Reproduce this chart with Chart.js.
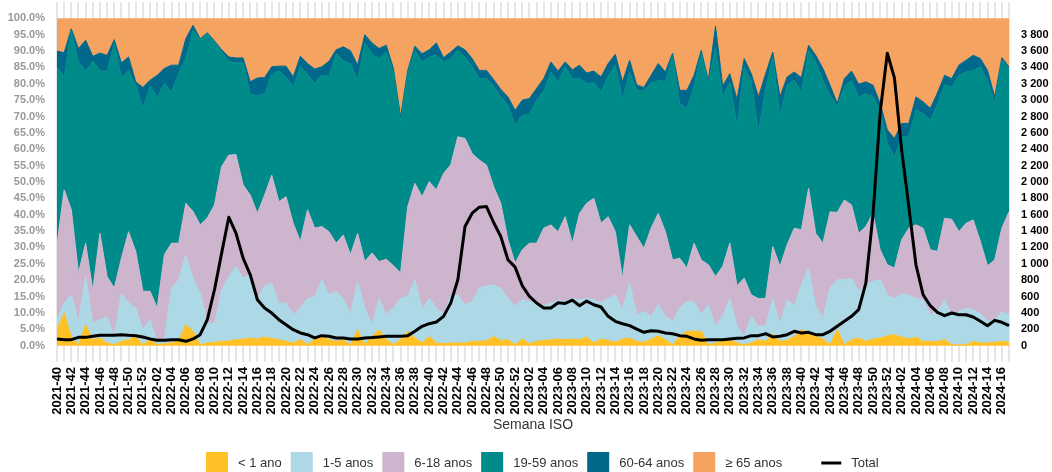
<!DOCTYPE html>
<html>
<head>
<meta charset="utf-8">
<script src="https://cdn.jsdelivr.net/npm/chart.js@4.4.0/dist/chart.umd.min.js"></script>
<style>
  html, body { margin: 0; padding: 0; background: #fff; }
  #wrap { width: 1052px; height: 472px; }
</style>
</head>
<body>
<div id="wrap"><canvas id="myChart" width="1052" height="472"></canvas></div>
<script>
// ISO weeks 2021-40 .. 2024-17
const weekRanges = [[2021, 40, 52], [2022, 1, 52], [2023, 1, 52], [2024, 1, 17]];
const weeks = [];
weekRanges.forEach(([yr, a, b]) => {
  for (let w = a; w <= b; w++) weeks.push(yr + '-' + String(w).padStart(2, '0'));
});

// upper edge of each band, in % (cumulative share)
const topLt1 = [4.9,10.0,2.8,0.3,6.4,1.8,2.3,0.8,0.3,1.3,1.8,2.8,0.3,1.8,0.3,0.6,0.8,1.6,6.4,4.4,
  0.3,0.8,1.0,1.3,1.4,1.8,2.0,2.3,2.0,2.6,2.2,1.8,1.3,0.8,1.8,0.3,2.0,3.3,1.8,1.3,
  1.8,0.3,4.9,0.3,2.8,4.9,1.8,0.3,1.8,4.4,2.3,0.8,2.8,0.8,0.6,0.8,0.8,0.8,1.3,1.3,
  1.5,2.8,1.6,1.8,0.3,2.0,0.6,1.3,1.6,1.8,2.0,1.8,2.0,1.8,2.6,0.8,2.0,1.6,1.0,2.0,
  2.3,1.3,1.0,2.0,3.0,1.8,0.3,2.8,4.4,4.4,4.4,0.3,0.8,1.3,1.8,0.8,0.3,0.8,1.8,1.3,
  3.6,1.3,1.6,2.8,4.9,3.9,2.8,2.0,0.3,4.9,0.3,1.8,2.3,1.3,2.0,2.3,3.0,3.3,2.6,2.0,
  2.6,1.3,1.3,1.3,1.8,0.3,0.2,0.3,1.3,0.8,0.8,1.0,1.3,1.0];
const top1to5 = [7.9,13.0,15.5,7.4,21.1,6.9,7.9,8.9,2.8,16.0,13.0,11.5,4.9,7.9,0.8,1.8,17.6,20.1,27.8,20.6,
  16.0,6.9,6.7,16.9,21.1,24.2,20.6,21.6,14.4,18.1,19.1,13.0,13.0,9.4,11.5,14.4,14.9,20.1,15.5,16.6,
  14.4,9.8,19.6,11.5,6.4,14.4,9.4,11.5,14.4,15.0,20.1,11.0,14.4,11.5,9.8,15.0,15.5,12.5,13.5,17.6,
  18.3,18.6,17.6,14.4,12.0,14.0,13.5,13.0,12.2,13.0,13.8,13.5,14.4,14.0,14.4,14.0,13.0,14.4,15.5,11.0,
  19.1,9.4,10.4,8.9,12.5,8.9,7.4,11.5,13.5,13.5,9.4,12.5,5.9,8.9,14.4,5.9,2.8,8.9,5.9,5.9,
  14.2,6.4,14.0,12.0,18.6,23.7,12.0,8.4,17.6,20.1,20.1,20.6,16.6,18.6,19.6,20.1,15.5,14.4,15.8,15.5,
  14.4,14.0,9.4,10.4,14.0,9.4,10.4,11.5,11.0,9.8,7.4,7.9,10.4,9.4];
const top6to18 = [30.8,47.6,41.5,22.2,31.3,16.9,34.3,21.1,17.6,26.7,34.8,28.8,16.6,16.6,11.5,27.8,31.3,31.3,43.5,41.0,
  36.9,39.0,43.0,54.7,58.2,58.4,49.1,46.0,40.4,46.0,52.1,44.0,45.5,37.4,31.8,41.5,35.9,36.4,34.8,31.3,
  33.8,27.8,34.3,25.7,28.3,25.7,26.4,24.4,22.2,42.5,49.6,45.5,50.1,47.6,52.6,55.2,63.8,63.3,58.7,56.7,
  55.2,48.6,43.5,32.3,25.2,29.3,31.3,31.3,35.9,36.9,34.8,39.4,31.3,40.4,43.5,45.0,37.4,39.4,34.8,20.6,
  36.9,33.3,29.7,35.9,40.4,34.8,26.2,26.7,23.7,31.3,26.2,24.7,21.1,24.2,31.3,18.3,20.6,15.5,14.4,14.4,
  30.3,24.2,30.8,35.9,35.4,48.1,34.3,31.3,40.9,40.7,44.5,43.0,34.3,36.4,40.4,29.3,24.7,23.7,32.3,35.9,
  36.9,35.9,29.3,28.8,38.9,38.6,34.8,37.4,38.4,31.8,24.4,26.2,35.9,40.9];
const top19to59 = [85.2,82.1,96.3,86.7,83.9,87.0,84.1,83.8,92.3,81.9,84.1,79.6,72.5,79.3,76.0,80.1,77.5,83.3,87.7,96.3,
  93.5,95.3,92.8,89.7,86.9,86.4,86.4,76.8,76.3,77.0,82.9,83.9,82.1,79.1,85.4,82.9,80.1,82.6,82.3,89.2,
  87.0,86.2,81.1,92.3,89.2,87.7,89.7,83.6,68.4,83.1,90.2,86.7,88.2,88.7,86.7,87.7,90.2,88.2,85.2,81.6,
  81.6,79.3,76.0,73.5,67.4,70.4,70.7,75.0,77.8,83.6,80.6,85.2,81.6,81.6,80.1,80.3,77.5,82.3,85.7,75.2,
  83.6,78.0,78.0,80.1,81.1,80.6,88.7,74.0,72.5,79.3,89.2,80.3,91.1,76.0,80.6,66.9,85.2,80.6,65.3,78.6,
  88.2,70.4,79.6,81.1,77.5,90.2,86.7,81.1,76.5,73.2,79.1,81.1,76.0,77.0,76.0,72.0,61.8,57.7,63.8,63.8,
  72.0,70.9,68.9,73.5,79.6,79.1,82.6,83.6,84.1,85.2,81.1,74.0,87.2,84.7];
const top60to64 = [90.0,89.5,96.8,90.8,93.3,88.4,89.4,88.7,93.5,86.4,88.2,80.6,78.9,81.1,82.6,84.7,85.7,85.7,93.8,97.9,
  93.8,95.6,93.1,90.4,88.2,87.9,87.9,80.6,81.8,81.9,85.2,85.4,85.4,82.1,88.4,86.2,84.5,85.2,86.9,90.4,
  91.3,90.1,85.7,95.0,92.5,90.8,91.8,84.7,69.9,84.1,91.5,89.2,90.4,92.5,88.0,89.7,91.6,90.4,87.7,84.1,
  84.1,81.3,78.3,76.0,71.9,75.0,75.5,78.6,81.6,86.7,83.9,86.7,84.3,85.7,83.3,83.9,82.1,86.2,89.0,80.6,
  87.2,79.6,78.9,82.6,86.2,83.6,89.4,78.0,78.0,82.6,90.2,81.1,97.6,79.3,83.1,75.2,87.7,83.1,76.0,83.1,
  89.7,76.0,82.1,83.6,81.9,91.8,88.7,84.7,79.6,74.0,81.6,83.9,79.9,80.6,79.6,74.0,65.9,63.3,67.9,67.9,
  76.0,74.5,72.5,77.2,82.6,81.6,85.7,87.2,88.7,87.7,84.1,76.0,88.0,85.2];

// weekly total (right axis)
const total = [82,73,73,101,101,114,126,126,126,134,126,122,106,82,65,65,73,73,53,82,
  134,317,683,1131,1570,1375,1070,866,561,459,398,317,256,195,155,134,94,122,114,94,
  94,82,82,94,98,106,114,114,114,122,175,236,268,289,358,520,805,1456,1619,1692,
  1700,1505,1334,1049,960,732,602,521,460,460,525,516,557,488,545,500,472,358,297,268,
  244,203,163,183,175,155,146,122,114,82,65,73,73,73,82,90,94,122,122,146,
  106,114,134,175,155,163,134,134,175,236,297,358,439,765,1600,2850,3575,3270,2391,1700,
  988,622,488,407,366,399,378,378,350,297,244,309,285,244];

const groups = ['< 1 ano', '1-5 anos', '6-18 anos', '19-59 anos', '60-64 anos', '≥ 65 anos'];
const colors = ['#FFC125', '#ADD8E6', '#CDB5CD', '#008B8B', '#00688B', '#F4A460'];

Chart.defaults.font.family = '"Liberation Sans", Arial, sans-serif';

function area(i, data, fill) {
  return {
    label: groups[i], data: data, fill: fill, yAxisID: 'y',
    backgroundColor: colors[i], borderColor: colors[i], borderWidth: i === 5 ? 0 : 1,
    pointRadius: 0, tension: 0
  };
}

function fmt(v) {
  if (v < 1000) return String(v);
  return Math.floor(v / 1000) + ' ' + String(v % 1000).padStart(3, '0');
}

const bottomLegend = {
  id: 'bottomLegend',
  afterDraw(chart) {
    const c = chart.ctx;
    c.save();
    c.font = '13px "Liberation Sans", Arial, sans-serif';
    c.textBaseline = 'middle';
    let x = 206;
    const cy = 463;
    const items = groups.map((g, i) => ({label: g, color: colors[i]}));
    items.push({label: 'Total', color: '#000', line: true});
    items.forEach(it => {
      if (it.line) {
        x += 30;
        c.strokeStyle = it.color;
        c.lineWidth = 3;
        c.beginPath(); c.moveTo(x, cy); c.lineTo(x + 20, cy); c.stroke();
        x += 20;
      } else {
        c.fillStyle = it.color;
        c.fillRect(x, 452, 22, 22);
        x += 22;
      }
      x += 10;
      c.fillStyle = '#333';
      c.fillText(it.label, x, cy);
      x += c.measureText(it.label).width + 9;
    });
    c.restore();
  }
};

function fitY(width) {
  return s => { s.width = width; s.paddingTop = 0; s.paddingBottom = 0; };
}

const ctx = document.getElementById('myChart').getContext('2d');
const myChart = new Chart(ctx, {
  type: 'line',
  data: {
    labels: weeks,
    datasets: [
      {
        label: 'Total', data: total, yAxisID: 'y1', fill: false,
        borderColor: '#000', borderWidth: 3, pointRadius: 0, tension: 0,
        borderJoinStyle: 'round'
      },
      area(0, topLt1, 'origin'),
      area(1, top1to5, '-1'),
      area(2, top6to18, '-1'),
      area(3, top19to59, '-1'),
      area(4, top60to64, '-1'),
      area(5, top60to64, {value: 100})
    ]
  },
  options: {
    responsive: false,
    animation: false,
    layout: { padding: { top: 2, bottom: 38, left: 0, right: 0 } },
    plugins: { legend: { display: false }, tooltip: { enabled: false } },
    scales: {
      x: {
        grid: { color: '#e6e6e6', lineWidth: 2, drawTicks: false },
        border: { display: false },
        ticks: {
          autoSkip: false, maxRotation: 90, minRotation: 90, padding: 5,
          color: '#000', font: { size: 13, weight: 'bold' },
          callback: (v, i) => (i % 2 === 0 ? weeks[i] : '')
        },
        title: { display: true, text: 'Semana ISO', color: '#333', font: { size: 14 }, padding: { top: 4, bottom: 0 } },
        afterFit(s) { s.height = 72; s.paddingLeft = 0; s.paddingRight = 0; }
      },
      y: {
        position: 'left', min: -5, max: 105,
        grid: { display: false, drawTicks: false }, border: { display: false },
        ticks: {
          stepSize: 5, padding: 12, color: '#999', font: { size: 11, weight: 'bold' },
          callback: v => (v >= 0 && v <= 100 ? v.toFixed(1) + '%' : null)
        },
        afterFit: fitY(57)
      },
      y1: {
        position: 'right', min: -200, max: 4200,
        grid: { display: false, drawTicks: false }, border: { display: false },
        ticks: {
          stepSize: 200, padding: 12, color: '#000', font: { size: 11, weight: 'bold' },
          callback: v => (v >= 0 && v <= 3800 ? fmt(v) : null)
        },
        afterFit: fitY(43)
      }
    }
  },
  plugins: [bottomLegend]
});
</script>
</body>
</html>
